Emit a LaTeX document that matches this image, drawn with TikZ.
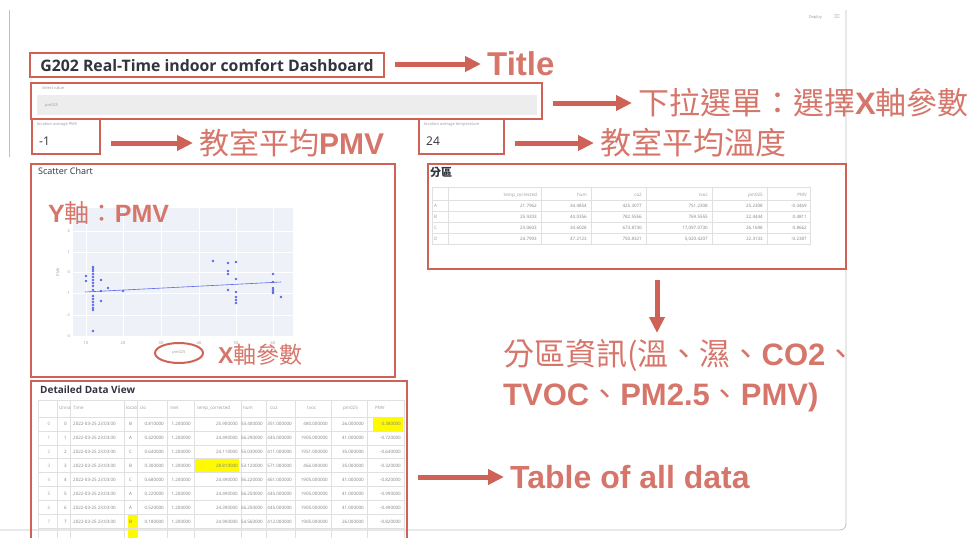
\documentclass[tikz,border=0pt]{standalone}
\usepackage{fontspec}
\setmainfont{Liberation Sans}
\newfontfamily\cjk{Noto Sans CJK TC}
\newfontfamily\uifont{Open Sans}
\usetikzlibrary{arrows.meta,positioning,calc,shapes.geometric}
\definecolor{anno}{RGB}{206,98,86}
\definecolor{annotext}{RGB}{214,118,106}
\definecolor{plotbg}{RGB}{238,241,248}
\definecolor{dot}{RGB}{92,104,232}
\definecolor{hilite}{RGB}{255,250,0}
\definecolor{uidark}{RGB}{49,51,63}

\begin{document}
\begin{tikzpicture}[
  x=1pt, y=-1pt,
  annobox/.style={draw=anno, line width=2.2pt, inner sep=0pt, anchor=north west},
  annoarrow/.style={draw=anno, line width=5pt, -{Triangle[length=16pt,width=15pt]}, shorten <=10pt, shorten >=6pt},
  annolabel/.style={text=annotext, inner sep=0pt, anchor=west},
  uitext/.style={text=uidark, inner sep=0pt, anchor=west},
  faint/.style={text=black!40, inner sep=0pt, anchor=west, font=\uifont\fontsize{4}{5}\selectfont},
  cell/.style={text=black!50, inner sep=0pt, anchor=east, font=\uifont\fontsize{4.5}{5}\selectfont},
  headcell/.style={text=black!40, inner sep=0pt, anchor=west, font=\uifont\fontsize{4.5}{5}\selectfont},
  gridline/.style={draw=black!12, line width=0.4pt}
]
  \useasboundingbox (0,0) rectangle (978,538);

  % Screenshot frame
  \draw[black!25, line width=0.8pt] (9,10) -- (9,157);
  \draw[black!25, line width=0.8pt, rounded corners=6pt] (846,10) -- (846,530) -- (0,530);
  \node[faint, anchor=east] (deploy) at (822,17) {Deploy};
  \node[text=black!40, inner sep=0pt, font=\fontsize{8}{8}\selectfont] (menu) at (837,17) {$\equiv$};

  % Select widget and metrics
  \node[faint] (selectcap) at (42,88) {Select value};
  \node[fill=black!7, minimum width=500pt, minimum height=20pt, inner sep=0pt, anchor=north west] (selectfield) at (37,95) {};
  \node[faint, right=8pt of selectfield.west, anchor=west] (selectval) {pm025};
  \node[faint] (pmvcap) at (37,124) {location average PMV};
  \node[uitext, font=\uifont\fontsize{12}{14}\selectfont] (pmvval) at (39,141) {-1};
  \node[faint] (tempcap) at (424,124) {location average temperature};
  \node[uitext, font=\uifont\fontsize{12}{14}\selectfont] (tempval) at (426,141) {24};

  % Scatter chart
  \node[uitext, font=\uifont\fontsize{9}{10}\selectfont] (scattertitle) at (38,171) {Scatter Chart};
  \fill[plotbg] (73,208) rectangle (293,337);
  \foreach \gy/\gl in {231/2, 252/1, 272/0, 293/-1, 315/-2, 336/-3} {
    \draw[white, line width=0.6pt] (73,\gy) -- (293,\gy);
    \node[faint, anchor=east] (ytick\gl) at (70,\gy) {\gl};
  }
  \foreach \gx/\gl in {86/10, 123/20, 161/30, 199/40, 236/50, 273/60} {
    \draw[white, line width=0.6pt] (\gx,208) -- (\gx,337);
    \node[faint, anchor=center] (xtick\gl) at (\gx,343) {\gl};
  }
  \node[faint, anchor=center, rotate=90] (yname) at (58,272) {PMV};
  \foreach \px/\py in {86/276, 86/281, 93/267, 93/269, 93/271, 93/274, 93/277, 93/280, 93/283, 93/286,
      93/290, 93/296, 93/299, 93/302, 93/305, 93/308, 93/310, 93/331, 101/280, 101/291, 101/301,
      108/288, 123/291, 213/261, 228/263, 228/271, 228/274, 228/290, 236/262, 236/279, 236/292,
      236/297, 236/300, 236/303, 273/274, 273/282, 273/288, 273/290, 273/292, 273/293, 281/297}
    \fill[dot] (\px,\py) circle (1.3pt);
  \draw[dot, line width=0.6pt] (85,292) -- (281,282);

  % Zone table
  \node[uitext, font=\cjk\bfseries\fontsize{11}{13}\selectfont] (zonetitle) at (430,172) {分區};
  \draw[gridline] (432,187) rectangle (810,244);
  \foreach \gy in {200.5, 211.5, 222.5, 233.5} \draw[gridline] (432,\gy) -- (810,\gy);
  \foreach \gx in {448, 541, 591, 646, 712, 767} \draw[gridline] (\gx,187) -- (\gx,244);
  \foreach \h/\xe [count=\k] in {temp\_corrected/537, hum/587, co2/642, tvoc/708, pm025/763, PMV/807}
    \node[cell, text=black!40] (zh-\k) at (\xe,195) {\h};
  \foreach \rl/\a/\b/\c/\d/\e/\f [count=\r] in {
      A/21.7962/34.4854/425.3077/751.2308/25.2308/-0.3469,
      B/25.9203/44.0356/782.5556/769.5555/22.4444/0.4811,
      C/23.0603/34.6028/673.8730/{17,097.0730}/26.1698/0.8662,
      D/24.7903/47.2123/750.8321/{5,020.4207}/22.3133/-0.2387} {
    \node[headcell] (zl-\r) at (434,195+11*\r) {\rl};
    \node[cell] (za-\r) at (537,195+11*\r) {\a};
    \node[cell] (zb-\r) at (587,195+11*\r) {\b};
    \node[cell] (zc-\r) at (642,195+11*\r) {\c};
    \node[cell] (zd-\r) at (708,195+11*\r) {\d};
    \node[cell] (ze-\r) at (763,195+11*\r) {\e};
    \node[cell] (zf-\r) at (807,195+11*\r) {\f};
  }

  % Detailed data table
  \node[uitext, font=\uifont\bfseries\fontsize{10}{12}\selectfont] (datatitle) at (40,390) {Detailed Data View};
  \fill[hilite] (373,418) rectangle (403,431);
  \fill[hilite] (194,458) rectangle (239,473);
  \fill[hilite] (128,515) rectangle (137,540);
  \draw[gridline] (38,540) -- (38,400) -- (404,400) -- (404,540);
  \foreach \gy in {417, 431, 445, 458, 472, 486, 500, 514, 528} \draw[gridline] (38,\gy) -- (404,\gy);
  \foreach \gx in {57, 70, 124, 137, 167, 194, 241, 266, 295, 331, 367} \draw[gridline] (\gx,400) -- (\gx,540);
  \foreach \h/\xs [count=\k] in {Unna/59, Time/73, locati/126, clo/140, met/170, temp\_corrected/197,
      hum/243, co2/270, tvoc/307, pm025/343, PMV/375}
    \node[headcell] (dh-\k) at (\xs,408) {\h};
  \foreach \loc/\clo/\tmp/\hum/\cotwo/\tvoc/\pmf/\pmv [count=\r from 0] in {
      B/0.810000/25.900000/53.400000/351.000000/480.000000/26.000000/0.380000,
      A/0.420000/24.490000/56.290000/445.000000/1905.000000/41.000000/-0.720000,
      C/0.640000/24.110000/55.030000/411.000000/1951.000000/35.000000/-0.640000,
      B/0.300000/28.810000/53.120000/571.000000/466.000000/35.000000/-0.320000,
      C/0.680000/24.490000/56.220000/461.000000/1905.000000/41.000000/-0.820000,
      A/0.220000/24.490000/56.250000/445.000000/1905.000000/41.000000/-0.990000,
      A/0.520000/24.390000/56.250000/445.000000/1905.000000/41.000000/-0.490000,
      B/0.180000/24.900000/54.560000/412.000000/1905.000000/26.000000/-0.820000} {
    \node[cell, anchor=center, text=black!35] (dn-\r) at (49,424+14*\r) {\r};
    \node[cell] (di-\r) at (67,424+14*\r) {\r};
    \node[cell, anchor=west] (dt-\r) at (73,424+14*\r) {2022-03-25 23:03:00};
    \node[cell, anchor=west] (dl-\r) at (129,424+14*\r) {\loc};
    \node[cell] (dc-\r) at (164,424+14*\r) {\clo};
    \node[cell] (dm-\r) at (191,424+14*\r) {1.200000};
    \node[cell] (dtc-\r) at (238,424+14*\r) {\tmp};
    \node[cell] (dh-\r) at (263,424+14*\r) {\hum};
    \node[cell] (dco-\r) at (292,424+14*\r) {\cotwo};
    \node[cell] (dtv-\r) at (328,424+14*\r) {\tvoc};
    \node[cell] (dpm-\r) at (364,424+14*\r) {\pmf};
    \node[cell] (dpv-\r) at (401,424+14*\r) {\pmv};
  }

  % Annotation boxes
  \node[annobox, minimum width=354pt, minimum height=24pt, text=uidark,
    font=\uifont\bfseries\fontsize{15.8}{18}\selectfont] (titlebox) at (29,52) {G202 Real-Time indoor comfort Dashboard};
  \node[annobox, minimum width=511pt, minimum height=36pt] (selectbox) at (30,82) {};
  \node[annobox, minimum width=68pt, minimum height=35pt] (pmvbox) at (31,118) {};
  \node[annobox, minimum width=85pt, minimum height=35pt] (tempbox) at (418,118) {};
  \node[annobox, minimum width=364pt, minimum height=213pt] (scatterbox) at (30,163) {};
  \node[annobox, minimum width=418pt, minimum height=105pt] (infobox) at (427,163) {};
  \node[annobox, minimum width=376pt, minimum height=170pt] (tablebox) at (30,380) {};
  \node[ellipse, draw=anno, line width=2pt, minimum width=48pt, minimum height=20pt, inner sep=0pt,
    text=black!40, font=\uifont\fontsize{4}{5}\selectfont] (xname) at (179,353) {pm025};

  % Annotation labels
  \node[annolabel, font=\bfseries\fontsize{33}{36}\selectfont] (titletxt) at (487,64) {Title};
  \node[annolabel, font=\fontsize{31}{36}\selectfont] (selecttxt) at (638,103) {{\cjk 下拉選單：選擇}\textbf{X}{\cjk 軸參數}};
  \node[annolabel, font=\fontsize{30}{36}\selectfont] (pmvtxt) at (199,143) {{\cjk 教室平均}\textbf{PMV}};
  \node[annolabel, font=\fontsize{31}{36}\selectfont] (temptxt) at (600,143) {\cjk 教室平均溫度};
  \node[annolabel, font=\fontsize{25}{30}\selectfont] (yaxistxt) at (48,213) {\textbf{Y}{\cjk 軸：}\textbf{PMV}};
  \node[annolabel, font=\fontsize{23}{28}\selectfont] (xaxistxt) at (218,355) {\textbf{X}{\cjk 軸參數}};
  \node[annolabel, anchor=north west, align=left, font=\fontsize{31}{40}\selectfont] (infotxt) at (503,339)
    {{\cjk 分區資訊(溫、濕、}\textbf{CO2}{\cjk 、}\\\textbf{TVOC}{\cjk 、}\textbf{PM2.5}{\cjk 、}\textbf{PMV)}};
  \node[annolabel, font=\bfseries\fontsize{32}{36}\selectfont] (alltxt) at (510,477) {Table of all data};
  \coordinate (downx) at (657,0);

  % Arrows
  \draw[annoarrow] (titlebox.east |- titletxt.west) -- (titletxt.west);
  \draw[annoarrow] (selectbox.east |- selecttxt.west) -- (selecttxt.west);
  \draw[annoarrow] (pmvbox.east |- pmvtxt.west) -- (pmvtxt.west);
  \draw[annoarrow] (tempbox.east |- temptxt.west) -- (temptxt.west);
  \draw[annoarrow] (infobox.south -| downx) -- (infotxt.north -| downx);
  \draw[annoarrow] (tablebox.east |- alltxt.west) -- (alltxt.west);
\end{tikzpicture}
\end{document}
